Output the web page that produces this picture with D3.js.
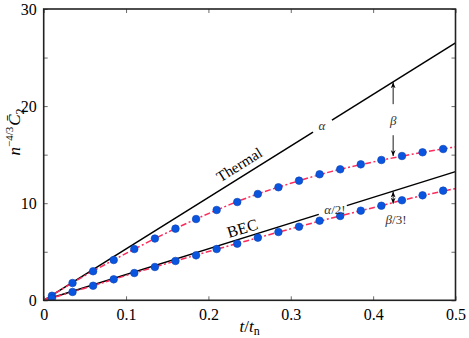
<!DOCTYPE html>
<html>
<head>
<meta charset="utf-8">
<style>
  body { margin: 0; background: #fff; }
</style>
</head>
<body>
<script src="https://cdnjs.cloudflare.com/ajax/libs/d3/7.8.5/d3.min.js"></script>
<script>
// sampled times and measured values
var tPts = [0.01, 0.035, 0.06, 0.085, 0.11, 0.135, 0.16, 0.185, 0.21, 0.235,
            0.26, 0.285, 0.31, 0.335, 0.36, 0.385, 0.41, 0.435, 0.46, 0.485];
var thermalPts = [0.47, 1.78, 2.99, 4.15, 5.28, 6.36, 7.38, 8.37, 9.30, 10.12,
                  10.95, 11.64, 12.32, 12.98, 13.49, 14.0, 14.45, 14.86, 15.24, 15.58];
var becPts = [0.2, 0.86, 1.50, 2.16, 2.81, 3.43, 4.05, 4.63, 5.28, 5.83,
              6.45, 7.03, 7.58, 8.2, 8.68, 9.23, 9.74, 10.30, 10.81, 11.29];

// fitted curves (dash-dot)
var tFit = [0, 0.05, 0.1, 0.15, 0.2, 0.25, 0.3, 0.35, 0.4, 0.45, 0.5];
var thermalFit = [0, 2.54, 4.83, 6.98, 8.93, 10.65, 12.05, 13.28, 14.25, 15.08, 15.8];
var becFit = [0, 1.25, 2.55, 3.8, 5.02, 6.2, 7.36, 8.48, 9.54, 10.6, 11.5];

// linear asymptotes: [t, value] segments (gaps leave room for labels)
var thermalLine = [[[0, 0], [0.327, 17.33]], [[0.35, 18.55], [0.5, 26.5]]];
var becLine = [[[0, 0], [0.334, 8.85]], [[0.368, 9.75], [0.5, 13.25]]];

var xTicks = [0, 0.1, 0.2, 0.3, 0.4, 0.5];
var yTicks = [0, 5, 10, 15, 20, 25, 30];
var yLabels = [0, 10, 20, 30];

var w = 469, h = 338;
var margin = {left: 43.7, right: 13.5, top: 9, bottom: 37.7};
var font = "'Liberation Serif', 'DejaVu Serif', 'Noto Serif', 'Liberation Sans', sans-serif";

var svg = d3.select("body").append("svg")
    .attr("width", w).attr("height", h)
    .style("font-family", font);

var x = d3.scaleLinear().domain([0, 0.5]).range([margin.left, w - margin.right]);
var y = d3.scaleLinear().domain([0, 30]).range([h - margin.bottom, margin.top]);

var x0 = x.range()[0], x1 = x.range()[1], y0 = y.range()[0], y1 = y.range()[1];

svg.append("clipPath").attr("id", "plot")
  .append("rect").attr("x", x0).attr("y", y1).attr("width", x1 - x0).attr("height", y0 - y1);

var g = svg.append("g").attr("clip-path", "url(#plot)");

// straight lines
var seg = d3.line().x(function(d) { return x(d[0]); }).y(function(d) { return y(d[1]); });
thermalLine.concat(becLine).forEach(function(s) {
  g.append("path").attr("d", seg(s)).attr("fill", "none")
    .attr("stroke", "#000").attr("stroke-width", 1.5);
});

// fit curves
var fitLine = d3.line()
    .x(function(d, i) { return x(tFit[i]); })
    .y(function(d) { return y(d); })
    .curve(d3.curveMonotoneX);
[thermalFit, becFit].forEach(function(f) {
  g.append("path").attr("d", fitLine(f)).attr("fill", "none")
    .attr("stroke", "#ff2a5a").attr("stroke-width", 1.5)
    .attr("stroke-dasharray", "6,2.5,2,2.5");
});

// points
[thermalPts, becPts].forEach(function(arr) {
  g.selectAll(null).data(arr).enter().append("circle")
    .attr("cx", function(d, i) { return x(tPts[i]); })
    .attr("cy", function(d) { return y(d); })
    .attr("r", 3.8)
    .attr("fill", "#0a55e0")
    .attr("stroke", "#0a3fb0").attr("stroke-width", 0.6);
});

// arrows
var defs = svg.append("defs");
defs.append("marker").attr("id", "head")
    .attr("viewBox", "0 0 10 10").attr("refX", 10).attr("refY", 5)
    .attr("markerWidth", 6).attr("markerHeight", 6).attr("orient", "auto-start-reverse")
    .attr("markerUnits", "userSpaceOnUse")
  .append("path").attr("d", "M0,1 L10,5 L0,9 L3,5 Z").attr("fill", "#000");

var ta = 0.4243;
function arrow(vFrom, vTo, both) {
  var l = svg.append("line")
    .attr("x1", x(ta)).attr("x2", x(ta))
    .attr("y1", y(vFrom)).attr("y2", y(vTo))
    .attr("stroke", "#000").attr("stroke-width", 0.9)
    .attr("marker-end", "url(#head)");
  if (both) l.attr("marker-start", "url(#head)");
}
// upper arrow split around the beta label
arrow(20.2, 22.45, false);
arrow(17.0, 14.85, false);
arrow(11.2, 9.95, true);

// axes box
var xTop = d3.axisTop(x).tickValues(xTicks).tickSizeInner(-4).tickSizeOuter(0).tickFormat("");
var xBot = d3.axisBottom(x).tickValues(xTicks).tickSizeInner(-4).tickSizeOuter(0)
    .tickFormat(function(d) { return d === 0 ? "0" : d3.format(".1f")(d); }).tickPadding(8);
var yLeft = d3.axisLeft(y).tickValues(yTicks).tickSizeInner(-4).tickSizeOuter(0)
    .tickFormat(function(d) { return yLabels.indexOf(d) >= 0 ? d : ""; }).tickPadding(7);
var yRight = d3.axisRight(y).tickValues(yTicks).tickSizeInner(-4).tickSizeOuter(0).tickFormat("");

function style(sel) {
  sel.attr("font-family", font);
  sel.select(".domain").remove();
  sel.selectAll("line").attr("stroke", "#444").attr("stroke-width", 0.8);
  sel.selectAll("text").attr("font-size", 16).attr("fill", "#000");
}
svg.append("g").attr("transform", "translate(0," + y1 + ")").call(xTop).call(style);
svg.append("g").attr("transform", "translate(0," + y0 + ")").call(xBot).call(style);
svg.append("g").attr("transform", "translate(" + x0 + ",0)").call(yLeft).call(style);
svg.append("g").attr("transform", "translate(" + x1 + ",0)").call(yRight).call(style);

svg.append("rect").attr("x", x0).attr("y", y1).attr("width", x1 - x0).attr("height", y0 - y1)
  .attr("fill", "none").attr("stroke", "#222").attr("stroke-width", 1.6);

// axis labels
var xl = svg.append("text").attr("x", (x0 + x1) / 2).attr("y", 332)
  .attr("text-anchor", "middle").attr("font-size", 17);
xl.append("tspan").attr("font-style", "italic").text("t");
xl.append("tspan").text("/");
xl.append("tspan").attr("font-style", "italic").text("t");
xl.append("tspan").attr("font-size", 12).attr("dy", 3).text("n");

var yl = svg.append("text").attr("transform", "translate(20,132) rotate(-90)")
  .attr("text-anchor", "middle").attr("font-size", 17);
yl.append("tspan").attr("font-style", "italic").text("n");
yl.append("tspan").attr("font-size", 11).attr("dy", -7).text("\u22124/3");
yl.append("tspan").attr("font-style", "italic").attr("dx", 1).attr("dy", 7).text("C\u0304");
yl.append("tspan").attr("font-size", 12).attr("dy", 4).text("2");

// annotations
svg.append("text").attr("transform", "translate(242,169) rotate(-32)")
  .attr("text-anchor", "middle").attr("font-size", 15).text("Thermal");
svg.append("text").attr("transform", "translate(244,233.5) rotate(-17)")
  .attr("text-anchor", "middle").attr("font-size", 16).text("BEC");

function note(px, py, parts) {
  var t = svg.append("text").attr("x", px).attr("y", py).attr("text-anchor", "middle")
    .attr("font-size", 13).attr("fill", "#333");
  parts.forEach(function(p) {
    t.append("tspan").attr("font-style", p[1] ? "italic" : "normal").text(p[0]);
  });
}
note(322, 130, [["\u03b1", true]]);
note(x(ta), 125, [["\u03b2", true]]);
note(335, 214, [["\u03b1", true], ["/2!", false]]);
note(396, 224, [["\u03b2", true], ["/3!", false]]);
</script>
</body>
</html>
